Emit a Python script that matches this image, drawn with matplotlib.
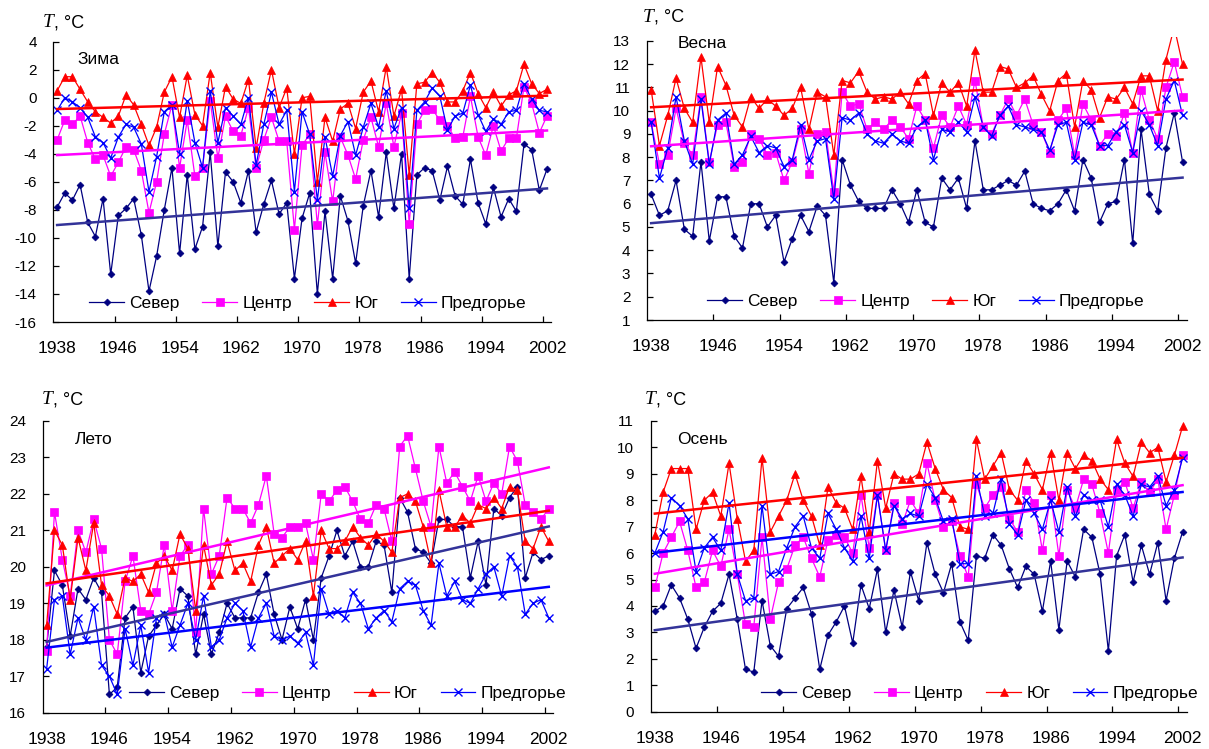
import numpy as np
import matplotlib
matplotlib.use("Agg")
import matplotlib.pyplot as plt

plt.rcParams['font.family'] = ['Liberation Sans', 'DejaVu Sans']
plt.rcParams['axes.unicode_minus'] = False

years = list(range(1938, 2003))
names = ['Север', 'Центр', 'Юг', 'Предгорье']

# Зима
sever_w = [-7.8, -6.8, -7.3, -6.2, -8.9, -9.9, -7.2, -12.6, -8.4, -7.9,
           -7.2, -9.8, -13.8, -11.3, -8.0, -5.0, -11.1, -5.5, -10.8, -9.2,
           -3.9, -10.6, -5.3, -6.0, -7.5, -5.2, -9.6, -7.6, -5.9, -8.3,
           -7.5, -12.9, -8.6, -6.8, -14.0, -8.1, -12.9, -7.0, -8.8, -11.8,
           -7.7, -5.2, -8.5, -3.9, -7.9, -4.0, -12.9, -5.5, -5.0, -5.2,
           -7.3, -4.9, -7.0, -7.6, -4.4, -7.5, -9.0, -6.4, -8.5, -7.2,
           -8.1, -3.3, -3.7, -6.6, -5.1]
centr_w = [-3.0, -1.6, -1.9, -1.3, -3.2, -4.4, -4.1, -5.6, -4.6, -3.5,
           -3.7, -5.2, -8.2, -6.0, -2.6, -0.5, -5.0, -1.6, -5.6, -5.0,
           -0.2, -4.3, -1.3, -2.4, -2.7, -0.7, -5.0, -3.0, -1.4, -3.1,
           -3.1, -9.4, -3.4, -2.6, -9.1, -3.9, -7.4, -2.8, -4.1, -5.8,
           -3.0, -1.4, -3.5, -0.4, -3.5, -1.1, -9.0, -1.9, -0.9, -0.8,
           -1.6, -2.0, -2.9, -2.8, 0.1, -2.8, -4.1, -2.0, -3.8, -2.9,
           -2.9, 0.8, -0.4, -2.5, -1.3]
yug_w = [0.5, 1.5, 1.5, 0.6, -0.3, -1.0, -1.4, -1.8, -1.3, 0.2,
         -0.5, -1.9, -3.4, -2.1, 0.4, 1.5, -1.4, 1.6, -1.2, -2.0,
         1.8, -2.1, 0.8, -0.1, -0.4, 1.3, -3.6, -0.4, 2.0, -0.7,
         0.7, -4.0, 0.0, 0.1, -6.0, -1.4, -3.1, -0.8, -0.4, -2.2,
         0.4, 1.2, -1.0, 2.2, -1.3, 0.6, -5.5, 1.0, 1.1, 1.8,
         1.1, -0.3, -0.3, 0.5, 1.8, 0.3, -0.7, 0.4, -0.6, 0.2,
         0.5, 2.4, 1.0, 0.3, 0.6]
pred_w = [-0.9, 0.0, -0.3, -0.7, -1.4, -2.8, -3.2, -4.3, -2.8, -1.9,
          -2.1, -3.3, -6.7, -4.2, -1.0, -0.5, -4.0, -0.2, -3.2, -5.0,
          0.5, -3.2, -0.7, -1.3, -1.9, 0.0, -4.8, -1.9, 0.4, -1.9,
          -0.9, -6.7, -1.0, -2.6, -7.3, -2.8, -5.6, -2.7, -1.7, -4.1,
          -2.1, -0.4, -2.1, 0.5, -2.2, -0.7, -7.9, -0.9, -0.3, 0.7,
          0.1, -2.3, -1.3, -1.1, 0.9, -1.2, -2.4, -1.5, -1.9, -1.0,
          -0.9, 1.0, -0.1, -0.9, -1.0]

# Весна
sever_s = [6.4, 5.5, 5.7, 7.0, 4.9, 4.6, 7.8, 4.4, 6.3, 6.3,
           4.6, 4.1, 6.0, 6.0, 5.0, 5.5, 3.5, 4.5, 5.5, 4.8,
           5.9, 5.5, 2.6, 7.9, 6.8, 6.1, 5.8, 5.8, 5.8, 6.6,
           6.0, 5.2, 6.6, 5.2, 5.0, 7.1, 6.6, 7.1, 5.8, 8.7,
           6.6, 6.6, 6.8, 7.0, 6.8, 7.4, 6.0, 5.8, 5.7, 6.0,
           6.6, 5.7, 7.9, 7.1, 5.2, 6.0, 6.1, 7.9, 4.3, 9.2,
           6.4, 5.7, 8.4, 9.9, 7.8]
centr_s = [9.5, 7.7, 8.1, 10.1, 8.6, 8.1, 10.6, 7.8, 9.4, 9.5,
           7.6, 7.8, 9.0, 8.8, 8.1, 8.2, 7.0, 7.8, 9.2, 7.3,
           9.0, 9.1, 6.5, 10.8, 10.2, 10.3, 9.2, 9.5, 9.2, 9.6,
           9.3, 8.8, 10.2, 9.6, 8.4, 9.8, 9.3, 10.2, 9.4, 11.3,
           9.3, 9.0, 9.8, 10.5, 9.8, 10.5, 9.4, 9.1, 8.2, 9.6,
           10.1, 8.1, 10.3, 9.6, 8.5, 9.0, 8.9, 9.9, 8.2, 10.9,
           9.6, 8.8, 11.0, 12.1, 10.6]
yug_s = [10.9, 8.5, 9.8, 11.4, 10.1, 9.5, 12.3, 9.5, 11.9, 11.1,
         9.8, 9.3, 10.6, 10.1, 10.5, 10.2, 9.8, 10.1, 11.0, 9.2,
         10.8, 10.6, 8.1, 11.3, 11.2, 11.7, 10.8, 10.5, 10.6, 10.5,
         10.8, 10.3, 11.3, 11.6, 9.8, 11.2, 10.8, 11.2, 10.2, 12.6,
         10.8, 10.8, 11.9, 11.8, 11.0, 11.2, 11.5, 10.7, 10.0, 11.3,
         11.6, 9.3, 11.3, 10.9, 9.7, 10.6, 10.5, 11.0, 10.3, 11.5,
         11.5, 10.0, 12.2, 13.6, 12.0]
pred_s = [9.5, 7.1, 8.4, 10.6, 8.7, 7.7, 10.5, 7.7, 9.6, 9.9,
          7.7, 8.1, 8.9, 8.2, 8.5, 8.4, 7.6, 7.9, 9.4, 7.9,
          8.7, 8.8, 6.2, 9.7, 9.6, 9.9, 9.0, 8.7, 8.6, 9.0,
          8.7, 8.6, 9.3, 9.6, 7.9, 9.2, 9.1, 9.5, 9.1, 10.6,
          9.3, 8.9, 9.8, 10.2, 9.4, 9.3, 9.2, 9.1, 8.3, 9.4,
          9.5, 7.9, 9.5, 9.4, 8.5, 8.5, 9.1, 9.4, 8.2, 10.0,
          9.4, 8.5, 10.5, 11.3, 9.8]

# Лето
sever_l = [17.8, 19.9, 19.5, 18.1, 19.4, 19.1, 19.7, 19.3, 16.5, 16.7,
           18.6, 18.9, 17.1, 18.1, 18.4, 18.7, 18.3, 19.4, 19.2, 17.6,
           18.7, 17.6, 18.2, 19.0, 18.6, 18.6, 18.6, 19.3, 19.8, 18.7,
           18.0, 18.9, 18.3, 19.1, 18.0, 19.7, 20.3, 21.0, 20.3, 20.7,
           20.0, 20.0, 20.7, 20.6, 19.3, 21.9, 21.5, 20.5, 20.4, 20.1,
           21.3, 21.3, 21.1, 21.1, 19.7, 20.7, 19.5, 21.6, 21.4, 21.9,
           22.2, 19.7, 20.4, 20.2, 20.3]
centr_l = [17.7, 21.5, 20.2, 19.2, 21.0, 20.4, 21.3, 20.5, 18.0, 17.6,
           19.6, 20.3, 18.8, 18.7, 19.3, 20.6, 18.8, 20.3, 20.6, 18.2,
           21.6, 19.8, 20.3, 21.9, 21.6, 21.6, 21.2, 21.7, 22.5, 20.9,
           20.8, 21.1, 21.1, 21.2, 20.2, 22.0, 21.8, 22.1, 22.2, 21.8,
           21.3, 21.2, 21.7, 21.6, 20.7, 23.3, 23.6, 22.7, 21.8, 21.1,
           23.3, 22.3, 22.6, 22.2, 21.8, 22.5, 21.8, 22.3, 22.0, 23.3,
           22.9, 21.7, 21.5, 21.3, 21.6]
yug_l = [18.4, 21.0, 20.6, 19.1, 20.8, 19.9, 21.2, 19.5, 19.2, 18.7,
         19.7, 19.6, 19.8, 19.3, 20.1, 20.3, 19.9, 20.9, 20.5, 18.8,
         20.6, 19.5, 19.8, 20.7, 19.9, 20.1, 19.6, 20.6, 21.1, 20.1,
         20.3, 20.5, 20.2, 20.7, 19.2, 21.0, 20.5, 20.5, 20.7, 21.1,
         20.8, 20.6, 20.9, 20.7, 20.4, 21.9, 22.0, 21.8, 21.1, 20.1,
         22.1, 21.1, 21.1, 21.4, 21.2, 21.7, 21.6, 21.9, 21.6, 22.2,
         22.1, 20.7, 20.5, 21.1, 20.7]
pred_l = [17.2, 19.1, 19.2, 17.6, 18.6, 18.0, 18.9, 17.3, 17.0, 16.5,
          18.3, 17.3, 18.4, 17.1, 18.6, 18.7, 17.8, 18.4, 19.0, 18.0,
          19.2, 17.8, 18.0, 18.6, 19.0, 18.8, 17.8, 18.6, 19.0, 18.1,
          18.0, 18.1, 17.9, 18.2, 17.3, 19.4, 18.7, 18.8, 18.6, 19.3,
          19.0, 18.3, 18.6, 18.8, 18.5, 19.4, 19.6, 19.5, 18.8, 18.4,
          20.1, 19.2, 19.6, 19.1, 19.0, 19.4, 19.8, 20.0, 19.2, 20.3,
          20.0, 18.7, 19.0, 19.1, 18.6]

# Осень
sever_a = [3.8, 4.0, 4.8, 4.3, 3.5, 2.4, 3.2, 3.8, 4.1, 5.2,
           3.5, 1.6, 1.5, 4.2, 2.5, 2.1, 3.9, 4.3, 4.7, 3.7,
           1.6, 2.9, 3.4, 4.0, 2.6, 4.8, 3.9, 5.4, 3.0, 4.6,
           3.2, 5.3, 4.2, 6.4, 5.2, 4.5, 5.6, 3.4, 2.7, 5.9,
           5.8, 6.7, 6.3, 5.4, 4.7, 5.5, 5.2, 3.8, 5.7, 3.1,
           5.7, 5.1, 6.9, 6.6, 5.2, 2.3, 5.9, 6.7, 4.9, 6.3,
           5.2, 6.4, 4.2, 5.8, 6.8]
centr_a = [4.7, 6.0, 6.6, 7.2, 6.1, 4.7, 4.9, 6.1, 5.5, 6.9,
           5.2, 3.3, 3.2, 6.6, 3.5, 4.9, 5.4, 6.3, 6.6, 5.8,
           5.1, 6.5, 6.7, 6.6, 6.0, 8.2, 6.2, 8.2, 6.1, 7.9,
           7.1, 8.0, 7.5, 9.4, 8.0, 7.0, 7.2, 5.9, 5.1, 8.6,
           7.7, 8.2, 8.5, 7.3, 6.8, 8.4, 7.9, 6.1, 8.2, 5.9,
           8.4, 7.7, 8.8, 8.6, 7.5, 6.0, 8.4, 8.7, 7.7, 8.7,
           8.3, 8.8, 6.9, 8.2, 9.7]
yug_a = [6.7, 8.3, 9.2, 9.2, 9.2, 6.9, 8.0, 8.3, 7.4, 9.4,
         7.3, 5.7, 6.1, 9.6, 6.8, 7.4, 8.0, 9.0, 8.0, 7.4,
         6.3, 8.5, 7.9, 7.7, 6.9, 8.9, 6.8, 9.5, 7.7, 9.0,
         8.8, 8.8, 9.0, 10.2, 9.2, 8.4, 8.1, 7.0, 6.9, 10.3,
         8.8, 9.3, 9.8, 8.4, 8.0, 9.5, 9.0, 8.4, 9.8, 8.0,
         9.8, 9.2, 9.7, 9.5, 8.8, 8.4, 10.3, 9.4, 8.9, 10.2,
         9.8, 10.0, 8.7, 9.7, 10.8]
pred_a = [6.0, 6.8, 8.1, 7.8, 7.3, 5.3, 6.2, 6.6, 6.1, 7.9,
          5.2, 4.2, 4.3, 7.8, 5.2, 5.3, 6.2, 7.0, 7.4, 6.2,
          5.8, 7.5, 6.9, 6.2, 5.7, 7.4, 5.8, 8.2, 6.1, 7.8,
          7.3, 7.5, 7.4, 8.6, 8.1, 7.2, 7.3, 5.6, 5.6, 8.9,
          7.4, 7.5, 8.8, 7.1, 6.7, 8.0, 7.5, 6.9, 8.0, 6.8,
          8.5, 7.4, 8.2, 8.0, 8.0, 7.0, 8.6, 8.2, 7.4, 8.6,
          8.5, 8.9, 7.8, 8.4, 9.6]

line_colors = ['#000080', '#FF00FF', '#FF0000', '#0000FF']
trend_colors = ['#333399', '#FF00FF', '#FF0000', '#0000FF']
markers = [('D', 3.5), ('s', 5.5), ('^', 5.5), ('x', 6)]

W, H = 1209, 749
fig = plt.figure(figsize=(W / 100, H / 100), dpi=100)


def px_axes(x0, x1, y0, y1):
    # axes placed by pixel edges (y measured from the top)
    return fig.add_axes([x0 / W, 1 - y1 / H, (x1 - x0) / W, (y1 - y0) / H])


def panel(ax, series, ylim, ystep, title, title_pos, leg_pos,
          trends=(0, 1, 2, 3), spine_top=None):
    x = np.arange(len(years))
    handles = []
    for vals, c, (m, ms) in zip(series, line_colors, markers):
        h, = ax.plot(x, vals, color=c, lw=0.9, marker=m, ms=ms,
                     mew=1.0 if m == 'x' else 0.5, mec=c, mfc=c)
        handles.append(h)
    # linear trends
    for i in trends:
        k, b = np.polyfit(x, series[i], 1)
        ax.plot(x[[0, -1]], k * x[[0, -1]] + b, color=trend_colors[i], lw=1.8)

    ax.set_xlim(-0.5, 64.5)
    ax.set_ylim(*ylim)
    top = spine_top if spine_top is not None else ylim[1]
    ax.set_yticks(np.arange(ylim[0], top + 0.01, ystep))
    ax.spines['left'].set_bounds(ylim[0], top)
    for s in ['top', 'right']:
        ax.spines[s].set_visible(False)
    for s in ['left', 'bottom']:
        ax.spines[s].set_linewidth(0.9)

    # tick marks between categories, year labels under every 8th year
    ax.set_xticks(np.arange(8, 65, 8) - 0.5)
    ax.set_xticklabels([])
    ax.set_xticks(np.arange(0, 65, 8), minor=True)
    ax.set_xticklabels([str(years[i]) for i in range(0, 65, 8)], minor=True)
    ax.tick_params(axis='x', which='major', direction='in', length=4, width=0.9)
    ax.tick_params(axis='x', which='minor', length=0, pad=14, labelsize=12.5)
    ax.tick_params(axis='y', direction='in', length=4, width=0.9, pad=12,
                   labelsize=11)

    ax.text(title_pos[0], title_pos[1], title, transform=ax.transAxes,
            fontsize=12.5, ha='left', va='center')
    ax.legend(handles, names, loc='center', bbox_to_anchor=leg_pos, ncol=4,
              frameon=False, fontsize=12.5, handlelength=2.0,
              handletextpad=0.3, columnspacing=1.3, borderaxespad=0)


def t_label(xp, yp):
    fig.text(xp / W, 1 - yp / H, 'T', fontsize=14, style='italic',
             family='Liberation Serif', ha='left', va='center')
    fig.text((xp + 11) / W, 1 - yp / H, ', °C', fontsize=13,
             ha='left', va='center')


ax1 = px_axes(53.3, 550.8, 41.7, 322)
panel(ax1, [sever_w, centr_w, yug_w, pred_w], (-16, 4), 2, 'Зима',
      (0.049, 0.935), (0.512, 0.067), trends=(0, 1, 2))

ax2 = px_axes(647, 1186.7, 36.8, 320)
panel(ax2, [sever_s, centr_s, yug_s, pred_s], (1, 13.18), 1, 'Весна',
      (0.057, 0.975), (0.517, 0.065), trends=(0, 1, 2), spine_top=13)

ax3 = px_axes(42.7, 552.7, 421, 712.7)
panel(ax3, [sever_l, centr_l, yug_l, pred_l], (16, 24), 1, 'Лето',
      (0.063, 0.938), (0.598, 0.067))

ax4 = px_axes(650.7, 1186.7, 421, 711.7)
panel(ax4, [sever_a, centr_a, yug_a, pred_a], (0, 11), 1, 'Осень',
      (0.050, 0.937), (0.614, 0.063))

t_label(42.7, 22.7)
t_label(643, 17)
t_label(42, 400)
t_label(645, 400)

fig.savefig('out.png', dpi=100)
